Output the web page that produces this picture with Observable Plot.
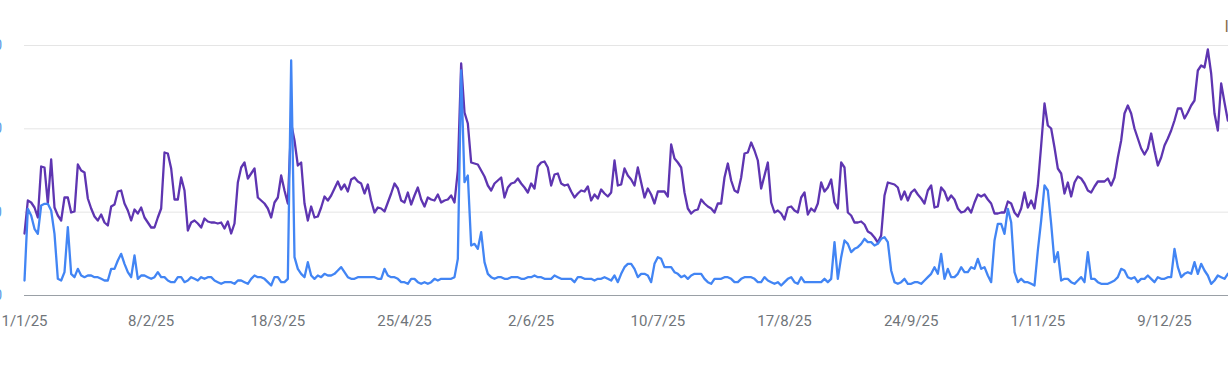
<!DOCTYPE html>
<html>
<head>
<meta charset="utf-8">
<script src="https://cdn.jsdelivr.net/npm/d3@7"></script>
<script src="https://cdn.jsdelivr.net/npm/@observablehq/plot@0.6"></script>
<style>
  html, body { margin: 0; padding: 0; background: #ffffff; }
  #chart svg { display: block; overflow: hidden; }
</style>
</head>
<body>
<div id="chart"></div>
<script>
// ---- Data (daily, starting 1 Jan 2025) ----
const startDate = "2025-01-01";

const clicks = [
  9,52,48,40,37,54,55,55,51,37,
  10,9,14,41,13,11,16,12,11,12,
  12,11,11,10,9,9,16,16,21,25,
  19,14,11,24,10,12,12,11,10,11,
  14,11,11,9,8,8,11,11,8,9,
  11,10,9,11,10,11,11,9,8,7,
  8,8,8,7,9,9,8,7,10,12,
  11,11,10,8,6,11,11,8,8,10,
  141,23,16,13,11,20,12,10,12,11,
  13,12,12,13,15,17,14,11,10,10,
  11,11,11,11,11,11,10,10,16,12,
  11,11,10,8,8,7,10,10,8,7,
  8,7,8,10,9,10,10,10,10,11,
  22,135,68,72,30,31,28,38,20,13,
  11,10,11,11,10,10,11,11,11,10,
  10,11,11,12,11,11,10,10,10,12,
  11,10,10,10,10,8,11,11,10,10,
  10,9,10,10,11,10,9,12,8,13,
  17,19,19,16,11,13,13,12,8,19,
  23,22,17,17,17,14,13,11,12,10,
  12,13,13,13,10,8,7,10,10,10,
  11,11,10,8,8,10,11,11,11,10,
  8,8,11,9,8,7,8,6,8,10,
  11,8,7,11,8,8,8,8,8,8,
  10,8,10,32,10,23,33,31,26,28,
  29,31,34,32,32,30,31,34,35,32,
  15,8,7,8,10,7,7,8,8,7,
  9,11,13,17,13,25,10,16,11,11,
  13,17,14,14,17,16,22,16,17,12,
  8,33,43,43,37,52,44,14,8,10,
  8,8,7,6,27,45,66,63,43,20,
  26,9,10,10,8,7,9,11,8,26,
  10,10,8,7,7,7,8,9,11,16,
  15,11,10,11,8,10,10,12,10,8,
  11,10,10,11,11,28,17,11,13,14,
  13,20,13,19,15,12,7,9,12,11,
  10,13
];

const impressions = [
  1860,2850,2790,2640,2340,3870,3840,2760,4080,2640,
  2400,2250,2940,2940,2490,2520,3930,3750,3690,2910,
  2610,2370,2250,2430,2190,2100,2670,2730,3120,3150,
  2760,2550,2250,2580,2460,2640,2340,2190,2040,2040,
  2340,2610,4290,4260,3810,2880,2880,3540,3150,1950,
  2190,2250,2160,2040,2310,2220,2190,2190,2160,2190,
  2010,2220,1860,2160,3390,3840,3990,3510,3660,3810,
  2940,2850,2760,2610,2340,2790,2940,3600,3150,2760,
  5160,4650,3900,3990,2760,2250,2670,2340,2370,2640,
  2970,2850,3000,3210,3420,3180,3330,3120,3480,3540,
  3420,3360,3060,3330,2850,2490,2640,2610,2520,2790,
  3060,3360,3210,2850,2790,3090,2730,3000,3240,2880,
  2670,2940,2880,2850,3030,2790,2850,2880,3000,2790,
  3750,6960,5490,5160,3990,3960,3930,3750,3570,3300,
  3150,3360,3450,3540,2940,3240,3360,3390,3510,3360,
  3240,3090,3360,3210,3870,3990,4020,3840,3300,3630,
  3660,3360,3300,3330,3120,2940,3060,3150,3120,3270,
  2850,3030,2910,3180,3060,2970,3090,4050,3300,3330,
  3810,3600,3480,3300,3840,3390,2940,3210,3030,2760,
  3120,3120,3120,2970,4530,4110,3990,3840,3090,2610,
  2460,2550,2580,2880,2760,2670,2610,2490,2760,2760,
  3540,3960,3450,3150,3090,3540,4260,4290,4590,4350,
  4050,3210,3600,3990,2790,2490,2550,2460,2280,2640,
  2670,2550,2490,2940,3090,2430,2610,2520,2760,3390,
  3120,3240,3480,2790,2610,3990,3840,2490,2400,2190,
  2190,2220,2130,1920,1860,1740,1590,1800,3000,3390,
  3360,3330,3240,2880,3120,2850,3090,3180,3030,2910,
  2760,3150,3300,2640,2670,3240,3120,2850,3000,2880,
  2610,2490,2520,2640,2490,2790,3030,2970,3030,2880,
  2760,2460,2460,2490,2490,2820,2760,2490,2370,2610,
  3090,2640,2850,2610,3300,4500,5760,5100,5010,4440,
  3810,3660,3060,3390,2970,3390,3570,3510,3360,3150,
  3090,3270,3420,3420,3420,3510,3300,3540,4140,4650,
  5460,5700,5460,5010,4710,4410,4230,4410,4860,4350,
  3900,4140,4500,4710,4950,5250,5610,5610,5310,5490,
  5700,5850,6750,6900,6840,7380,6660,5460,4950,6360,
  5790,5250
];

const tickLabels = ["1/1/25","8/2/25","18/3/25","25/4/25","2/6/25","10/7/25","17/8/25","24/9/25","1/11/25","9/12/25"];
const clickTicks = [0, 50, 100, 150];
const impressionTicks = [0, 2500, 5000, 7500];
const rightAxisTitle = "Impressions";

// ---- Build table ----
const t0 = d3.utcParse("%Y-%m-%d")(startDate);
const data = clicks.map((c, i) => ({
  date: d3.utcDay.offset(t0, i),
  clicks: c,
  impressions: impressions[i]
}));
const parseTick = d3.utcParse("%d/%m/%y");
const tickDates = tickLabels.map(parseTick);
const labelOf = new Map(tickDates.map((d, i) => [+d, tickLabels[i]]));
const ratio = impressionTicks[impressionTicks.length - 1] / clickTicks[clickTicks.length - 1];
const xEnd = new Date(+t0 + 361.2 * 864e5);

const chart = Plot.plot({
  width: 1228,
  height: 386,
  marginLeft: 24,
  marginRight: 0,
  marginTop: 45,
  marginBottom: 91,
  style: { fontFamily: "Roboto, 'Noto Sans', sans-serif", background: "#ffffff", color: "#70757a" },
  x: { type: "utc", domain: [t0, xEnd] },
  y: { domain: [0, 150] },
  marks: [
    Plot.gridY(clickTicks, { stroke: "#e5e5e5", strokeOpacity: 1, strokeWidth: 1 }),
    Plot.axisY(clickTicks, {
      tickSize: 0, tickPadding: 22.5, label: null,
      fill: "#5a9be6", fontSize: 14
    }),
    Plot.axisX(tickDates, {
      tickSize: 0, tickPadding: 20, label: null,
      tickFormat: d => labelOf.get(+d),
      fill: "#70757a", fontSize: 15
    }),
    Plot.ruleY([0], { stroke: "#9aa0a6", strokeWidth: 1 }),
    Plot.line(data, {
      x: "date", y: d => d.impressions / ratio,
      stroke: "#5e35b1", strokeWidth: 2.3, strokeLinejoin: "round"
    }),
    Plot.line(data, {
      x: "date", y: "clicks",
      stroke: "#4285f4", strokeWidth: 2.3, strokeLinejoin: "round"
    }),
    Plot.text([rightAxisTitle], {
      frameAnchor: "top-right", textAnchor: "start", lineAnchor: "bottom",
      dx: -4, dy: -14, fill: "#8a6d4b", fontSize: 16
    })
  ]
});

document.getElementById("chart").appendChild(chart);
</script>
</body>
</html>
